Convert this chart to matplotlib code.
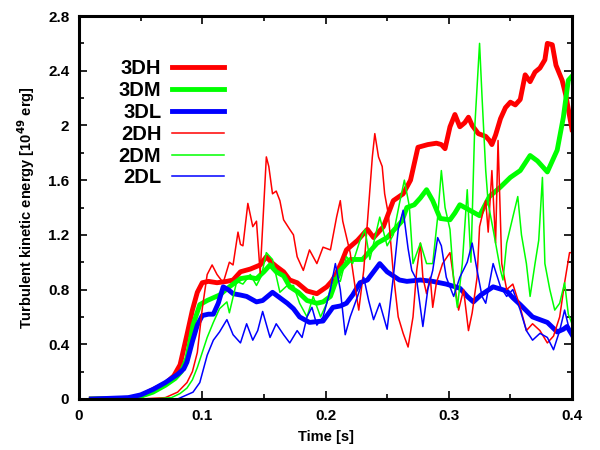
import numpy as np
import matplotlib
matplotlib.use("Agg")
import matplotlib.pyplot as plt
from matplotlib.ticker import MultipleLocator, FuncFormatter

# (time [s], energy [1e49 erg])
d3h = np.array([
    [0.01, 0], [0.04, 0.005], [0.05, 0.02], [0.058, 0.06], [0.065, 0.09], [0.071, 0.12],
    [0.077, 0.17], [0.082, 0.25], [0.0876, 0.47], [0.092, 0.65], [0.096, 0.78], [0.1, 0.85],
    [0.105, 0.86], [0.112, 0.85], [0.12, 0.86], [0.125, 0.87], [0.131, 0.93], [0.139, 0.95],
    [0.147, 0.98], [0.152, 1.04], [0.156, 1.0], [0.16, 0.97], [0.166, 0.93], [0.171, 0.87],
    [0.177, 0.85], [0.185, 0.79], [0.193, 0.77], [0.201, 0.82], [0.205, 0.86], [0.209, 0.92],
    [0.213, 1.0], [0.217, 1.09], [0.226, 1.16], [0.234, 1.24], [0.239, 1.18], [0.247, 1.26],
    [0.255, 1.45], [0.263, 1.5], [0.269, 1.6], [0.272, 1.72], [0.275, 1.84], [0.283, 1.86],
    [0.29, 1.87], [0.294, 1.86], [0.297, 1.83], [0.301, 1.99], [0.305, 2.08], [0.309, 1.99],
    [0.313, 2.02], [0.316, 2.06], [0.319, 2.0], [0.324, 1.94], [0.33, 1.92], [0.333, 1.89],
    [0.335, 1.86], [0.338, 1.93], [0.342, 2.05], [0.346, 2.13], [0.35, 2.17], [0.354, 2.15],
    [0.358, 2.19], [0.362, 2.37], [0.366, 2.32], [0.37, 2.39], [0.374, 2.42], [0.378, 2.48],
    [0.38, 2.6], [0.384, 2.59], [0.387, 2.44], [0.392, 2.33], [0.395, 2.22], [0.4, 1.97]])

d3m = np.array([
    [0.01, 0], [0.04, 0.005], [0.05, 0.02], [0.06, 0.05], [0.07, 0.1], [0.078, 0.15],
    [0.083, 0.2], [0.0876, 0.30], [0.0925, 0.54], [0.098, 0.69], [0.104, 0.72], [0.114, 0.76],
    [0.122, 0.82], [0.131, 0.88], [0.138, 0.89], [0.144, 0.88], [0.15, 0.93], [0.155, 0.98],
    [0.16, 0.93], [0.166, 0.9], [0.171, 0.82], [0.178, 0.78], [0.185, 0.72], [0.193, 0.7],
    [0.198, 0.71], [0.204, 0.75], [0.208, 0.85], [0.212, 0.94], [0.22, 1.02], [0.23, 1.02],
    [0.236, 1.08], [0.242, 1.14], [0.25, 1.18], [0.258, 1.26], [0.262, 1.3], [0.266, 1.4],
    [0.272, 1.42], [0.277, 1.47], [0.282, 1.53], [0.287, 1.45], [0.293, 1.32], [0.301, 1.31],
    [0.305, 1.36], [0.309, 1.42], [0.317, 1.38], [0.325, 1.34], [0.333, 1.48], [0.342, 1.55],
    [0.35, 1.62], [0.358, 1.67], [0.366, 1.78], [0.372, 1.74], [0.38, 1.66], [0.388, 1.82],
    [0.393, 2.06], [0.397, 2.33], [0.4, 2.36]])

d3l = np.array([
    [0.01, 0], [0.04, 0.01], [0.05, 0.03], [0.06, 0.07], [0.07, 0.12], [0.08, 0.18],
    [0.085, 0.22], [0.0876, 0.27], [0.092, 0.42], [0.096, 0.54], [0.1, 0.61], [0.105, 0.62],
    [0.109, 0.62], [0.113, 0.7], [0.117, 0.82], [0.121, 0.8], [0.125, 0.77], [0.131, 0.76],
    [0.136, 0.75], [0.144, 0.71], [0.149, 0.72], [0.157, 0.78], [0.163, 0.74], [0.169, 0.7],
    [0.174, 0.66], [0.179, 0.6], [0.187, 0.56], [0.198, 0.57], [0.206, 0.67], [0.212, 0.68],
    [0.217, 0.7], [0.222, 0.76], [0.228, 0.85], [0.234, 0.87], [0.244, 0.99], [0.25, 0.93],
    [0.255, 0.9], [0.26, 0.87], [0.266, 0.86], [0.277, 0.87], [0.287, 0.86], [0.298, 0.84],
    [0.309, 0.81], [0.315, 0.75], [0.32, 0.71], [0.326, 0.76], [0.331, 0.79], [0.336, 0.82],
    [0.347, 0.79], [0.352, 0.74], [0.358, 0.69], [0.368, 0.6], [0.374, 0.58], [0.38, 0.56],
    [0.388, 0.49], [0.393, 0.51], [0.396, 0.53], [0.4, 0.47]])

d2h = np.array([
    [0.01, 0], [0.05, 0], [0.07, 0.01], [0.08, 0.05], [0.0876, 0.12], [0.092, 0.2],
    [0.096, 0.34], [0.1, 0.66], [0.104, 0.91], [0.108, 0.98], [0.112, 0.91], [0.117, 0.85],
    [0.122, 1.0], [0.125, 0.98], [0.129, 1.22], [0.131, 1.13], [0.133, 1.12], [0.137, 1.43],
    [0.141, 1.26], [0.144, 1.3], [0.147, 0.92], [0.152, 1.77], [0.154, 1.70], [0.157, 1.5],
    [0.16, 1.52], [0.163, 1.45], [0.166, 1.31], [0.171, 1.24], [0.174, 1.2], [0.177, 1.04],
    [0.182, 0.94], [0.187, 1.09], [0.193, 0.99], [0.198, 1.11], [0.204, 1.09], [0.209, 1.33],
    [0.212, 1.45], [0.214, 1.3], [0.22, 1.07], [0.224, 0.82], [0.227, 0.65], [0.231, 0.94],
    [0.234, 1.29], [0.238, 1.77], [0.24, 1.94], [0.243, 1.77], [0.246, 1.7], [0.248, 1.5],
    [0.251, 1.35], [0.255, 0.92], [0.259, 0.6], [0.263, 0.48], [0.267, 0.38], [0.271, 0.6],
    [0.274, 0.94], [0.277, 1.14], [0.279, 0.89], [0.282, 0.77], [0.285, 0.89], [0.287, 0.67],
    [0.29, 0.85], [0.295, 0.99], [0.301, 1.07], [0.305, 0.82], [0.308, 0.65], [0.312, 0.8],
    [0.316, 0.5], [0.319, 0.63], [0.323, 0.89], [0.325, 1.26], [0.33, 1.45], [0.332, 1.22],
    [0.335, 1.67], [0.338, 1.14], [0.34, 1.89], [0.343, 0.99], [0.347, 0.8], [0.352, 0.84],
    [0.358, 0.67], [0.363, 0.5], [0.368, 0.55], [0.374, 0.5], [0.38, 0.41], [0.385, 0.46],
    [0.39, 0.6], [0.394, 0.85], [0.398, 1.07], [0.4, 1.07]])

d2m = np.array([
    [0.01, 0], [0.06, 0], [0.075, 0.01], [0.082, 0.04], [0.0876, 0.08], [0.092, 0.14],
    [0.096, 0.23], [0.104, 0.45], [0.109, 0.56], [0.114, 0.66], [0.12, 0.71], [0.122, 0.63],
    [0.128, 0.86], [0.133, 0.84], [0.139, 0.91], [0.144, 0.83], [0.148, 0.9], [0.152, 1.07],
    [0.157, 1.02], [0.163, 0.78], [0.169, 0.83], [0.174, 0.83], [0.179, 0.7], [0.185, 0.6],
    [0.19, 0.75], [0.196, 0.6], [0.201, 0.7], [0.206, 0.89], [0.212, 0.86], [0.217, 1.04],
    [0.222, 0.99], [0.228, 1.16], [0.232, 1.24], [0.236, 1.02], [0.244, 1.33], [0.25, 1.12],
    [0.255, 1.2], [0.26, 1.43], [0.264, 1.6], [0.268, 1.41], [0.271, 0.99], [0.277, 1.14],
    [0.282, 0.99], [0.287, 0.99], [0.291, 1.33], [0.294, 1.67], [0.297, 1.4], [0.301, 1.24],
    [0.304, 0.87], [0.307, 0.67], [0.311, 0.99], [0.315, 1.53], [0.318, 1.0], [0.321, 1.97],
    [0.325, 2.6], [0.327, 2.21], [0.33, 1.67], [0.332, 1.43], [0.336, 1.24], [0.342, 0.94],
    [0.344, 0.87], [0.347, 1.14], [0.352, 1.33], [0.356, 1.48], [0.359, 1.2], [0.363, 0.99],
    [0.366, 0.75], [0.37, 0.99], [0.373, 1.16], [0.376, 1.62], [0.378, 0.99], [0.382, 0.8],
    [0.386, 0.65], [0.39, 0.7], [0.394, 0.85], [0.397, 0.62], [0.4, 0.55]])

d2l = np.array([
    [0.01, 0], [0.08, 0], [0.0925, 0.05], [0.098, 0.12], [0.104, 0.32], [0.109, 0.43],
    [0.114, 0.49], [0.12, 0.58], [0.125, 0.47], [0.131, 0.41], [0.136, 0.55], [0.141, 0.43],
    [0.145, 0.5], [0.149, 0.64], [0.155, 0.45], [0.16, 0.55], [0.166, 0.47], [0.171, 0.41],
    [0.177, 0.5], [0.181, 0.45], [0.185, 0.6], [0.189, 0.67], [0.193, 0.54], [0.198, 0.6],
    [0.204, 0.8], [0.208, 0.99], [0.212, 0.8], [0.216, 0.47], [0.22, 0.6], [0.226, 0.75],
    [0.231, 0.89], [0.235, 0.72], [0.239, 0.58], [0.244, 0.7], [0.25, 0.51], [0.255, 0.89],
    [0.259, 1.24], [0.263, 1.38], [0.267, 1.1], [0.27, 0.94], [0.274, 0.87], [0.279, 0.53],
    [0.283, 0.8], [0.287, 0.94], [0.291, 1.18], [0.294, 1.12], [0.298, 0.89], [0.304, 0.75],
    [0.309, 0.89], [0.315, 1.0], [0.319, 1.14], [0.323, 0.94], [0.327, 0.75], [0.33, 0.7],
    [0.336, 0.99], [0.342, 0.82], [0.347, 0.75], [0.352, 0.8], [0.358, 0.65], [0.363, 0.5],
    [0.368, 0.43], [0.374, 0.48], [0.38, 0.45], [0.385, 0.36], [0.39, 0.5], [0.394, 0.65],
    [0.398, 0.5], [0.4, 0.48]])

labels = ["3DH", "3DM", "3DL", "2DH", "2DM", "2DL"]
series = [d3h, d3m, d3l, d2h, d2m, d2l]
colors = ["#ff0000", "#00ff00", "#0000ff", "#ff0000", "#00ff00", "#0000ff"]
widths = [3.5, 3.5, 3.5, 1.1, 1.1, 1.1]

plt.rcParams['font.family'] = ['Liberation Sans', 'DejaVu Sans']
plt.rcParams['font.weight'] = 'bold'

fig = plt.figure(figsize=(6, 4.5), dpi=100)
ax = fig.add_axes([79 / 600, 51 / 450, 493 / 600, 383 / 450])

for d, lab, c, w in zip(series, labels, colors, widths):
    ax.plot(d[:, 0], d[:, 1], color=c, lw=w, label=lab)

ax.set_xlim(0, 0.4)
ax.set_ylim(0, 2.8)
ax.xaxis.set_major_locator(MultipleLocator(0.1))
ax.xaxis.set_minor_locator(MultipleLocator(0.05))
ax.yaxis.set_major_locator(MultipleLocator(0.4))
ax.yaxis.set_minor_locator(MultipleLocator(0.2))
fmt = FuncFormatter(lambda v, p: "%g" % round(v, 3))
ax.xaxis.set_major_formatter(fmt)
ax.yaxis.set_major_formatter(fmt)
ax.tick_params(which='both', direction='in', top=True, right=True, width=1.2,
               labelsize=11, pad=7)
ax.tick_params(which='major', length=6)
ax.tick_params(which='minor', length=3.5)
for s in ax.spines.values():
    s.set_linewidth(2.2)

ax.set_xlabel("Time [s]", fontsize=10.5, fontweight='bold', labelpad=5)
ax.set_ylabel("Turbulent kinetic energy [10$^{\\mathbf{49}}$ erg]", fontsize=10.5,
              fontweight='bold', labelpad=8)

leg = ax.legend(loc='upper left', bbox_to_anchor=(0.06, 0.913), frameon=False,
                markerfirst=False, fontsize=14.5, handlelength=2.55,
                handletextpad=0.55, labelspacing=0.14, borderpad=0)
for t in leg.get_texts():
    t.set_fontweight('bold')

fig.savefig("out.png", dpi=100)
